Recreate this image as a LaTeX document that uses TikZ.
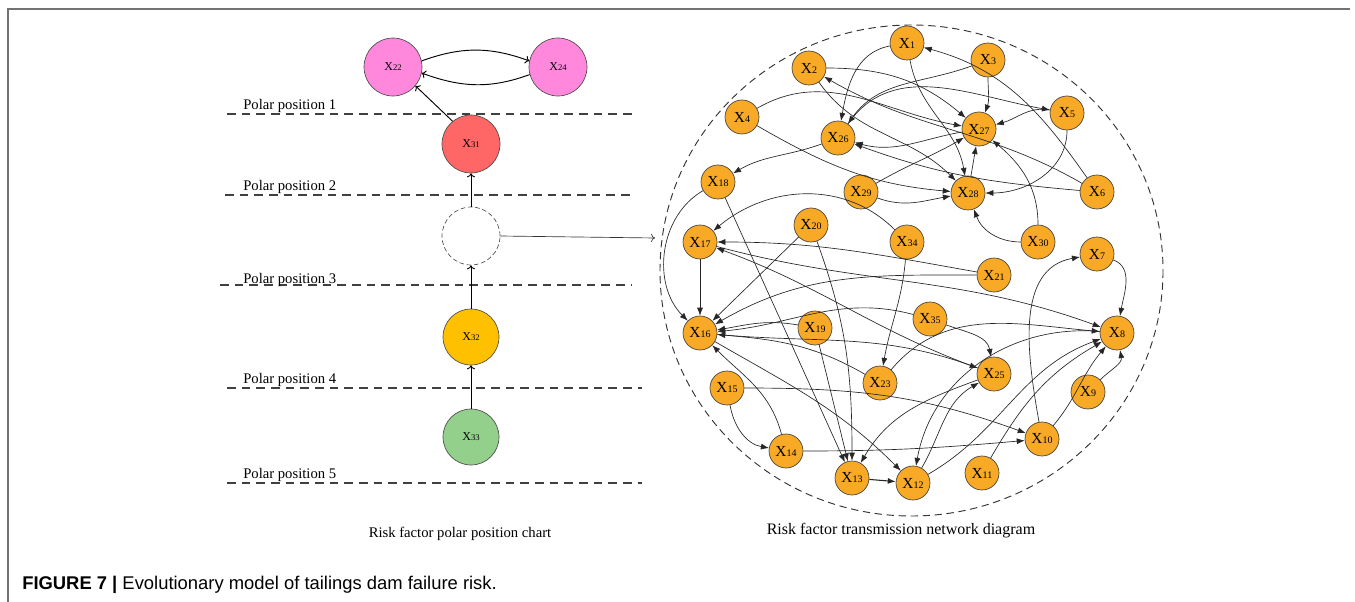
\documentclass[tikz,border=0pt]{standalone}
\usepackage{fontspec}
\setmainfont{Liberation Serif}
\newfontfamily\capfont{Liberation Sans}
\usetikzlibrary{arrows.meta}
\definecolor{orn}{RGB}{248,170,38}
\definecolor{pnk}{RGB}{255,136,221}
\definecolor{rd}{RGB}{255,102,102}
\definecolor{gld}{RGB}{255,192,0}
\definecolor{grn}{RGB}{146,208,140}
\newcommand{\nx}[1]{{\fontsize{11.5}{11}\selectfont X}{\fontsize{7.5}{8}\selectfont #1}}
\newcommand{\lx}[1]{{\fontsize{9}{9}\selectfont X}{\fontsize{6.5}{7}\selectfont #1}}
\begin{document}
\begin{tikzpicture}[x=0.75pt,y=-0.75pt,
  nd/.style={circle,draw=black!75,line width=0.5pt,fill=orn,minimum size=25.5pt,inner sep=0pt},
  bg/.style={circle,draw=black!70,line width=0.5pt,minimum size=43.5pt,inner sep=0pt},
  net/.style={-{Latex[length=6pt,width=4.5pt]},line width=0.5pt,black!85},
  lvl/.style={dash pattern=on 6.5pt off 4.5pt,line width=0.8pt,black!75},
  pl/.style={-{To[length=3pt,width=6pt]},line width=0.7pt},
  plab/.style={anchor=base west,inner sep=0pt,font=\fontsize{11}{13}\selectfont},
]
\useasboundingbox (0,0) rectangle (1355,602);
\draw[black!55,line width=0.8pt] (8,602) -- (8,9) -- (1350,9);

% ---------- left panel ----------
\draw[lvl] (227,114) -- (633,114);
\draw[lvl] (225,195) -- (630,195);
\draw[lvl] (220,285) -- (632,285);
\draw[lvl] (227,388) -- (642,388);
\draw[lvl] (227,483) -- (642,483);
\node[plab] (p1) at (243,110) {Polar position 1};
\node[plab] (p2) at (243,191) {Polar position 2};
\node[plab] (p3) at (243,283) {Polar position 3};
\node[plab] (p4) at (243,383) {Polar position 4};
\node[plab] (p5) at (243,478) {Polar position 5};

\node[bg,fill=pnk] (x22) at (393,67) {\lx{22}};
\node[bg,fill=pnk] (x24) at (558,67) {\lx{24}};
\node[bg,fill=rd] (x31) at (471,144) {\lx{31}};
\node[bg,draw=black!70,dash pattern=on 3.5pt off 2pt,fill=none] (dc) at (471,236) {};
\node[bg,fill=gld,minimum size=42pt] (x32) at (471,337) {\lx{32}};
\node[bg,fill=grn,minimum size=42pt] (x33) at (471,437) {\lx{33}};

\draw[pl] (x22.12) to[out=20,in=160] (x24.168);
\draw[pl] (x24.-165) to[out=-160,in=-20] (x22.-12);
\draw[pl] (x31.129) -- (x22.-40);
\draw[pl] (dc) -- (x31);
\draw[pl] (x32) -- (dc);
\draw[pl] (x33) -- (x32);
\coordinate (ae) at (655,238);
\draw[pl,line width=0.5pt,black!80] (dc.east) -- (ae);

\node[anchor=base,font=\fontsize{11}{13}\selectfont] (c1) at (460,537) {Risk factor polar position chart};
\node[anchor=base,font=\fontsize{12}{14}\selectfont] (c2) at (901,534) {Risk factor transmission network diagram};
\node[anchor=base west,inner sep=0pt,font=\capfont\fontsize{13.8}{16}\selectfont] (fig) at (22,589) {\textbf{FIGURE 7 |} Evolutionary model of tailings dam failure risk.};

% ---------- network ----------
\draw[dash pattern=on 5.5pt off 3.5pt,line width=0.7pt,black!80] (911.5,270.5) ellipse [x radius=251.5, y radius=245.5];

\node[nd] (n1) at (907,43) {\nx{1}};
\node[nd] (n2) at (809,68) {\nx{2}};
\node[nd] (n3) at (988,60) {\nx{3}};
\node[nd] (n4) at (742,117) {\nx{4}};
\node[nd] (n5) at (1067,113) {\nx{5}};
\node[nd] (n6) at (1097,192) {\nx{6}};
\node[nd] (n7) at (1097,254) {\nx{7}};
\node[nd] (n8) at (1117,333) {\nx{8}};
\node[nd] (n9) at (1088,392) {\nx{9}};
\node[nd] (n10) at (1042,439) {\nx{10}};
\node[nd] (n11) at (982,473) {\nx{11}};
\node[nd] (n12) at (913,483) {\nx{12}};
\node[nd] (n13) at (852,478) {\nx{13}};
\node[nd] (n14) at (786,451) {\nx{14}};
\node[nd] (n15) at (727,388) {\nx{15}};
\node[nd] (n16) at (700,333) {\nx{16}};
\node[nd] (n17) at (700,242) {\nx{17}};
\node[nd] (n18) at (718,182) {\nx{18}};
\node[nd] (n19) at (815,328) {\nx{19}};
\node[nd] (n20) at (811,225) {\nx{20}};
\node[nd] (n21) at (994,275) {\nx{21}};
\node[nd] (n23) at (880,383) {\nx{23}};
\node[nd] (n25) at (994,374) {\nx{25}};
\node[nd] (n26) at (838,138) {\nx{26}};
\node[nd] (n27) at (979,129) {\nx{27}};
\node[nd] (n28) at (968,193) {\nx{28}};
\node[nd] (n29) at (861,192) {\nx{29}};
\node[nd] (n30) at (1038,242) {\nx{30}};
\node[nd] (n34) at (907,242) {\nx{34}};
\node[nd] (n35) at (930,319) {\nx{35}};

\draw[net] (n1) to[out=190,in=80] (n26);
\draw[net] (n1) to[out=-80,in=100] (n28);
\draw[net] (n3) to[out=-90,in=70] (n27);
\draw[net] (n3) to[out=200,in=55] (n26);
\draw[net] (n5) to[out=170,in=15] (n27);
\draw[net] (n5) to[out=-90,in=0] (n28);
\draw[net] (n6) to[out=125,in=-15] (n1);
\draw[net] (n6) to[out=150,in=-30] (n2);
\draw[net] (n4) to[out=30,in=170] (n27);
\draw[net] (n4) to[out=-30,in=175] (n28);
\draw[net] (n2) to[out=0,in=140] (n27);
\draw[net] (n2) to[out=-55,in=135] (n28);
\draw[net] (n26) to[out=55,in=170] (n5);
\draw[net] (n27) to[out=190,in=-15] (n26);
\draw[net] (n26) to[out=200,in=30] (n18);
\draw[net] (n6) to[out=175,in=-20] (n26);
\draw[net] (n29) to[out=30,in=210] (n27);
\draw[net] (n29) to[out=-20,in=190] (n28);
\draw[net] (n28) -- (n27);
\draw[net] (n30) to[out=180,in=-70] (n28);
\draw[net] (n30) to[out=90,in=-40] (n27);
\draw[net] (n34) to[out=135,in=40] (n17);
\draw[net] (n34) to[out=-95,in=80] (n23);
\draw[net] (n21) to[out=170,in=0] (n17);
\draw[net] (n21) to[out=180,in=30] (n16);
\draw[net] (n17) to[out=-15,in=160] (n8);
\draw[net] (n25) to[out=160,in=-20] (n17);
\draw[net] (n20) -- (n16);
\draw[net] (n20) to[out=-70,in=90] (n13);
\draw[net] (n19) to[out=170,in=10] (n16);
\draw[net] (n19) -- (n13);
\draw[net] (n18) -- (n13);
\draw[net] (n18) to[out=210,in=135] (n16);
\draw[net] (n17) -- (n16);
\draw[net] (n16) to[out=-30,in=135] (n12);
\draw[net] (n14) to[out=105,in=-45] (n16);
\draw[net] (n15) to[out=-80,in=170] (n14);
\draw[net] (n15) to[out=0,in=160] (n10);
\draw[net] (n14) to[out=0,in=185] (n10);
\draw[net] (n10) to[out=100,in=190] (n7);
\draw[net] (n7) to[out=-20,in=80] (n8);
\draw[net] (n9) to[out=45,in=-80] (n8);
\draw[net] (n10) to[out=50,in=-130] (n8);
\draw[net] (n11) to[out=60,in=-150] (n8);
\draw[net] (n12) to[out=30,in=-160] (n8);
\draw[net] (n8) to[out=175,in=80] (n12);
\draw[net] (n12) to[out=60,in=-150] (n25);
\draw[net] (n25) to[out=200,in=60] (n13);
\draw[net] (n23) to[out=50,in=175] (n8);
\draw[net] (n35) to[out=-20,in=100] (n25);
\draw[net] (n35) to[out=165,in=5] (n16);
\draw[net] (n23) to[out=150,in=-5] (n16);
\draw[net] (n16) to[out=-5,in=160] (n25);
\draw[net,line width=0.8pt] (n13) -- (n12);
\end{tikzpicture}
\end{document}
